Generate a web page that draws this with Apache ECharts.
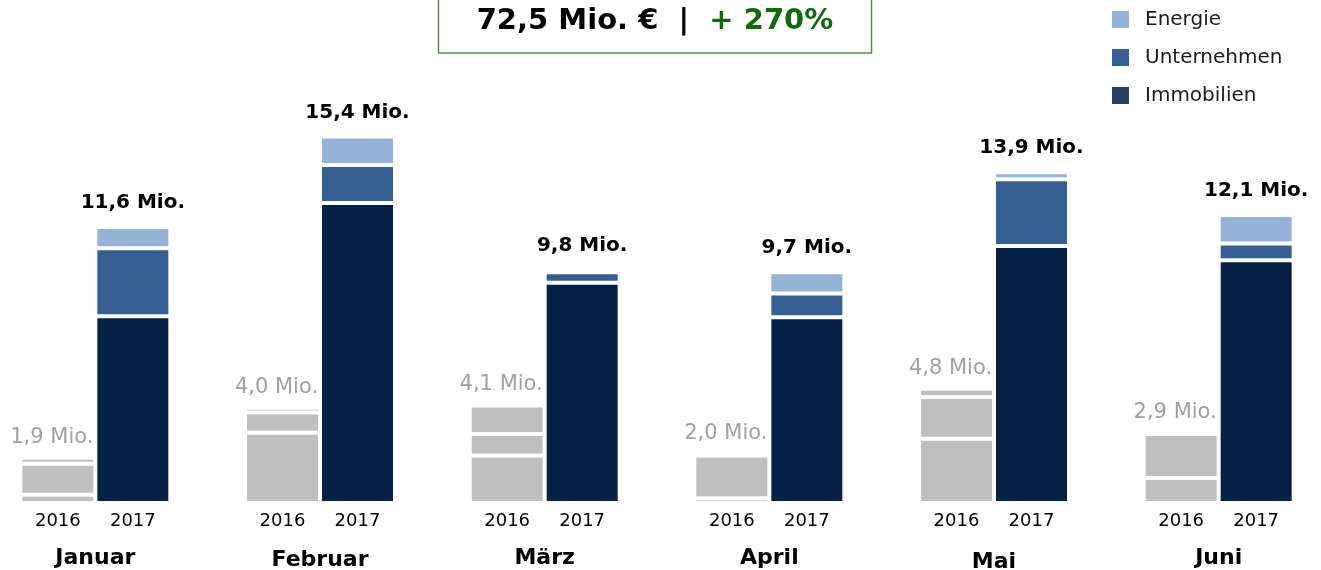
<!DOCTYPE html>
<html>
<head>
<meta charset="utf-8">
<script src="https://cdn.jsdelivr.net/npm/echarts@6/dist/echarts.min.js"></script>
<style>
html,body{margin:0;padding:0;background:#fff;}
#chart{width:1321px;height:570px;}
</style>
</head>
<body>
<div id="chart"></div>
<script>
// ---- data ----
const months = ['Januar', 'Februar', 'März', 'April', 'Mai', 'Juni'];
const years = ['2016', '2017'];
// 2016 (grey), same segment order bottom -> top
const immobilien2016 = [0.35, 2.95, 2.0, 0.2, 2.7, 1.05];
const unternehmen2016 = [1.3, 0.85, 0.9, 1.8, 1.75, 1.85];
const energie2016 = [0.25, 0.2, 1.2, 0, 0.35, 0];
// 2017
const immobilien2017 = [7.85, 12.6, 9.25, 7.8, 10.8, 10.2];
const unternehmen2017 = [2.85, 1.6, 0.45, 1.0, 2.8, 0.7];
const energie2017 = [0.9, 1.2, 0.1, 0.9, 0.3, 1.2];
const headlineTotal = '72,5 Mio. €';
const headlineGrowth = '+ 270%';

// ---- helpers ----
function fmt(v) { return v.toFixed(1).replace('.', ',') + ' Mio.'; }
const total2016 = months.map((m, i) => immobilien2016[i] + unternehmen2016[i] + energie2016[i]);
const total2017 = months.map((m, i) => immobilien2017[i] + unternehmen2017[i] + energie2017[i]);

const FONT = '"DejaVu Sans", sans-serif';
const GREY = '#bfbfbf';
const C_IMM = '#072146', C_UNT = '#376092', C_ENE = '#95b3d7';
const BW = 75;

function barSeries(name, stack, data, color, label) {
  return {
    name: name, type: 'bar', stack: stack, data: data,
    barWidth: BW, barGap: '0%',
    itemStyle: { color: color, borderColor: '#ffffff', borderWidth: 2 },
    label: label || { show: false },
    emphasis: { disabled: true },
    silent: true
  };
}

const monthStyle = {};
months.forEach((m, i) => {
  const extra = (m === 'Februar') ? 4 : (m === 'Mai' ? 8 : 0);
  monthStyle['m' + i] = { fontFamily: FONT, fontSize: 22, fontWeight: 'bold', color: '#000', lineHeight: 52 + extra };
});

const chart = echarts.init(document.getElementById('chart'), null, { renderer: 'canvas' });
chart.setOption({
  animation: false,
  backgroundColor: '#ffffff',
  grid: { left: -17, width: 1348, top: 27, bottom: 67, containLabel: false, outerBoundsMode: 'none' },
  legend: {
    data: [
      { name: 'Energie', itemStyle: { color: C_ENE } },
      { name: 'Unternehmen', itemStyle: { color: C_UNT } },
      { name: 'Immobilien', itemStyle: { color: '#254061' } }
    ],
    orient: 'vertical', left: 1110, top: 9,
    itemWidth: 19, itemHeight: 19, itemGap: 17, padding: 0,
    icon: 'rect', selectedMode: false,
    textStyle: { fontFamily: FONT, fontSize: 20, color: '#1a1a1a', padding: [0, 0, 0, 10] }
  },
  xAxis: {
    type: 'category', data: months,
    axisLine: { show: false }, axisTick: { show: false }, splitLine: { show: false },
    axisLabel: {
      interval: 0, margin: 7,
      formatter: function (v, i) {
        return '{y|' + years[0] + '}{y|' + years[1] + '}\n{m' + i + '|' + v + '}';
      },
      rich: Object.assign({
        y: { fontFamily: FONT, fontSize: 18, color: '#000', width: BW, align: 'center', lineHeight: 22 }
      }, monthStyle)
    }
  },
  yAxis: { type: 'value', min: 0, max: 20, show: false, splitLine: { show: false } },
  graphic: [
    {
      type: 'rect', shape: { x: 438.5, y: -3, width: 433, height: 56 },
      style: { fill: '#ffffff', stroke: '#4f8f3f', lineWidth: 1.5 }, silent: true
    },
    {
      type: 'text', x: 655, y: 21, silent: true,
      style: {
        text: '{a|' + headlineTotal + '  |  }{b|' + headlineGrowth + '}',
        textAlign: 'center', textVerticalAlign: 'middle',
        rich: {
          a: { fontFamily: FONT, fontSize: 29, fontWeight: 'bold', fill: '#000', color: '#000' },
          b: { fontFamily: FONT, fontSize: 29, fontWeight: 'bold', fill: '#0d6b0d', color: '#0d6b0d' }
        }
      }
    }
  ],
  series: [
    barSeries('Immobilien 2016', '2016', immobilien2016, GREY),
    barSeries('Unternehmen 2016', '2016', unternehmen2016, GREY),
    barSeries('Energie 2016', '2016', energie2016, GREY, {
      show: true, position: 'top', distance: 10, offset: [-6, 0],
      fontFamily: FONT, fontSize: 21, color: '#a0a0a0',
      formatter: p => fmt(total2016[p.dataIndex])
    }),
    barSeries('Immobilien', '2017', immobilien2017, C_IMM),
    barSeries('Unternehmen', '2017', unternehmen2017, C_UNT),
    barSeries('Energie', '2017', energie2017, C_ENE, {
      show: true, position: 'top', distance: 14,
      fontFamily: FONT, fontSize: 20, fontWeight: 'bold', color: '#000',
      formatter: p => fmt(total2017[p.dataIndex])
    })
  ]
});
</script>
</body>
</html>
